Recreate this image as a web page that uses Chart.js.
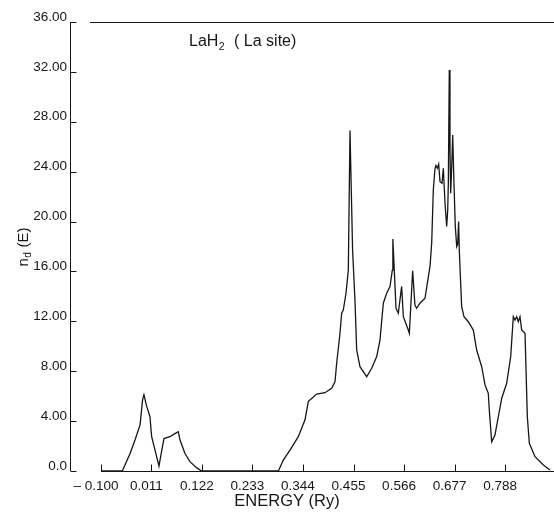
<!DOCTYPE html>
<html>
<head>
<meta charset="utf-8">
<script src="https://cdn.jsdelivr.net/npm/chart.js@4.4.1/dist/chart.umd.min.js"></script>
<style>
  html, body { margin: 0; padding: 0; background: #ffffff; }
  #c { display: block; }
</style>
</head>
<body>
<canvas id="c" width="554" height="512"></canvas>
<script>
// ---- data ----
const energy = [
  -0.100, -0.053, -0.036, -0.025, -0.014, -0.0085, -0.0055, 0.0004, 0.0077, 0.0114,
  0.0224, 0.0275, 0.0319, 0.0385, 0.0516, 0.0626, 0.070, 0.0736, 0.0846, 0.0956,
  0.110, 0.121, 0.290, 0.3007, 0.3154, 0.3337, 0.3484, 0.3557, 0.3593, 0.374,
  0.3923, 0.407, 0.4143, 0.418, 0.4253, 0.429, 0.4326, 0.4385, 0.4436, 0.4473,
  0.453, 0.4582, 0.462, 0.4692, 0.4839, 0.495, 0.506, 0.5132, 0.5205, 0.5279,
  0.5352, 0.5403, 0.5415, 0.5484, 0.5535, 0.5608, 0.5645, 0.5755, 0.5777, 0.585,
  0.590, 0.5938, 0.601, 0.6121, 0.6231, 0.6268, 0.6304, 0.6341, 0.6363, 0.6392,
  0.6422, 0.6451, 0.6495, 0.6524, 0.6561, 0.6598, 0.662, 0.6634, 0.6655, 0.667,
  0.6686, 0.6708, 0.673, 0.6758, 0.6787, 0.6818, 0.684, 0.686, 0.6875, 0.6905,
  0.6927, 0.6978, 0.7073, 0.7183, 0.7257, 0.7367, 0.744, 0.7512, 0.7534, 0.7587,
  0.7659, 0.7732, 0.7807, 0.7916, 0.8004, 0.8062, 0.8099, 0.8136, 0.8171, 0.8209,
  0.8246, 0.8319, 0.837, 0.8414, 0.8539, 0.8722, 0.8868
];
const dos = [
  0, 0, 1.4, 2.5, 3.7, 5.7, 6.1, 5.2, 4.35, 2.75,
  1.15, 0.4, 1.3, 2.6, 2.75, 3.0, 3.15, 2.5, 1.4, 0.75,
  0.27, 0, 0, 0.88, 1.68, 2.75, 4.1, 5.56, 5.7, 6.17,
  6.28, 6.63, 7.16, 8.64, 11.04, 12.65, 12.9, 14.25, 16.1, 27.3,
  17.7, 13.7, 9.7, 8.36, 7.56, 8.24, 9.17, 10.5, 13.45, 14.25,
  14.78, 16.1, 18.6, 13.05, 12.65, 14.8, 12.37, 11.3, 11.04, 16.05,
  13.3, 13.05, 13.45, 13.85, 16.4, 18.26, 22.53, 24.27, 24.5, 24.27,
  24.6, 23.2, 23.07, 24.27, 21.47, 19.6, 20.9, 23.07, 32.16, 25.7,
  22.27, 24.4, 26.94, 23.07, 19.6, 17.99, 18.2, 20.0, 17.7, 15.05,
  13.17, 12.37, 11.97, 11.3, 9.7, 8.36, 6.9, 6.23, 4.89, 2.35,
  2.89, 4.35, 5.83, 7.03, 9.17, 12.37, 12.1, 12.37, 11.97, 12.37,
  11.3, 11.04, 4.35, 2.22, 1.15, 0.48, 0.08
];
const xTicks = [-0.100, 0.011, 0.122, 0.233, 0.344, 0.455, 0.566, 0.677, 0.788];
const xTickLabels = ['\u2013 0.100', '0.011', '0.122', '0.233', '0.344', '0.455', '0.566', '0.677', '0.788'];
const yTicks = [0, 4, 8, 12, 16, 20, 24, 28, 32, 36];
const yTickLabels = ['0.0', '4.00', '8.00', '12.00', '16.00', '20.00', '24.00', '28.00', '32.00', '36.00'];
const chartTitle = { main: 'LaH', sub: '2', rest: '  ( La site)' };
const xTitle = 'ENERGY (Ry)';
const yTitle = { main: 'n', sub: 'd', rest: ' (E)' };

const INK = '#161616';
const FONT = '"Liberation Sans", Arial, Helvetica, sans-serif';

const framePlugin = {
  id: 'frame',
  afterDraw(chart) {
    const ctx = chart.ctx;
    const xs = chart.scales.x, ys = chart.scales.y;
    const ca = chart.chartArea;
    ctx.save();
    ctx.strokeStyle = INK;
    ctx.lineWidth = 1;
    // y axis line
    const ax = Math.round(ca.left) + 0.5;
    const yTop = ys.getPixelForValue(yTicks[yTicks.length - 1]);
    const yBot = ys.getPixelForValue(0);
    ctx.beginPath();
    ctx.moveTo(ax, yTop);
    ctx.lineTo(ax, yBot);
    ctx.stroke();
    // y ticks (inward)
    yTicks.forEach(v => {
      const py = Math.round(ys.getPixelForValue(v)) + 0.5;
      ctx.beginPath();
      ctx.moveTo(ax, py);
      ctx.lineTo(ax + 6, py);
      ctx.stroke();
    });
    // x baseline from first tick to right edge
    const by = Math.round(yBot) + 0.5;
    ctx.beginPath();
    ctx.moveTo(xs.getPixelForValue(xTicks[0]), by);
    ctx.lineTo(ca.right, by);
    ctx.stroke();
    // x ticks (upward)
    xTicks.forEach(v => {
      const px = Math.round(xs.getPixelForValue(v)) + 0.5;
      ctx.beginPath();
      ctx.moveTo(px, by);
      ctx.lineTo(px, by - 7);
      ctx.stroke();
    });
    // top frame line
    const ty = Math.round(yTop) + 0.5;
    ctx.beginPath();
    ctx.moveTo(xs.getPixelForValue(-0.124), ty);
    ctx.lineTo(ca.right, ty);
    ctx.stroke();

    // texts
    ctx.fillStyle = INK;
    ctx.textBaseline = 'alphabetic';
    // chart title
    ctx.textAlign = 'left';
    let tx = 189, tyb = 46;
    ctx.font = '16px ' + FONT;
    ctx.fillText(chartTitle.main, tx, tyb);
    tx += ctx.measureText(chartTitle.main).width;
    ctx.font = '10.5px ' + FONT;
    ctx.fillText(chartTitle.sub, tx + 0.5, tyb + 4);
    tx += ctx.measureText(chartTitle.sub).width + 1;
    ctx.font = '16px ' + FONT;
    ctx.fillText(chartTitle.rest, tx, tyb);

    // x axis title
    ctx.font = '16.5px ' + FONT;
    ctx.textAlign = 'center';
    ctx.textBaseline = 'middle';
    ctx.fillText(xTitle, 287, 501);

    // y axis title (rotated)
    ctx.save();
    ctx.translate(24, 247);
    ctx.rotate(-Math.PI / 2);
    ctx.textBaseline = 'middle';
    ctx.textAlign = 'left';
    ctx.font = '15px ' + FONT;
    const w1 = ctx.measureText(yTitle.main).width;
    ctx.font = '10px ' + FONT;
    const w2 = ctx.measureText(yTitle.sub).width;
    ctx.font = '15px ' + FONT;
    const w3 = ctx.measureText(yTitle.rest).width;
    let sx = -(w1 + w2 + w3 + 1) / 2;
    ctx.fillText(yTitle.main, sx, 0);
    sx += w1;
    ctx.font = '10px ' + FONT;
    ctx.fillText(yTitle.sub, sx + 0.5, 4);
    sx += w2 + 1;
    ctx.font = '15px ' + FONT;
    ctx.fillText(yTitle.rest, sx, 0);
    ctx.restore();

    ctx.restore();
  }
};

new Chart(document.getElementById('c'), {
  type: 'line',
  data: {
    datasets: [{
      data: energy.map((e, i) => ({ x: e, y: dos[i] })),
      borderColor: INK,
      borderWidth: 1.3,
      pointRadius: 0,
      tension: 0,
      fill: false
    }]
  },
  options: {
    responsive: false,
    animation: false,
    events: [],
    layout: { padding: { top: 22, right: 0, left: 0, bottom: 0 } },
    plugins: { legend: { display: false }, tooltip: { enabled: false }, title: { display: false } },
    scales: {
      x: {
        type: 'linear',
        min: -0.168,
        max: 0.8956,
        grid: { display: false, drawTicks: false },
        border: { display: false },
        afterBuildTicks: s => { s.ticks = xTicks.map(v => ({ value: v })); },
        afterFit: s => { s.height = 41; },
        ticks: {
          autoSkip: false,
          maxRotation: 0,
          minRotation: 0,
          padding: 7,
          labelOffset: -5,
          color: INK,
          font: { family: FONT, size: 13.5 },
          callback: (v) => {
            const i = xTicks.findIndex(t => Math.abs(t - v) < 1e-6);
            return i >= 0 ? xTickLabels[i] : '';
          }
        }
      },
      y: {
        type: 'linear',
        min: 0,
        max: 36,
        grid: { display: false, drawTicks: false },
        border: { display: false },
        afterBuildTicks: s => { s.ticks = yTicks.map(v => ({ value: v })); },
        afterFit: s => { s.width = 70; },
        ticks: {
          autoSkip: false,
          padding: 3,
          labelOffset: -5,
          color: INK,
          font: { family: FONT, size: 13.5 },
          callback: (v) => {
            const i = yTicks.findIndex(t => Math.abs(t - v) < 1e-6);
            return i >= 0 ? yTickLabels[i] : '';
          }
        }
      }
    }
  },
  plugins: [framePlugin]
});
</script>
</body>
</html>
